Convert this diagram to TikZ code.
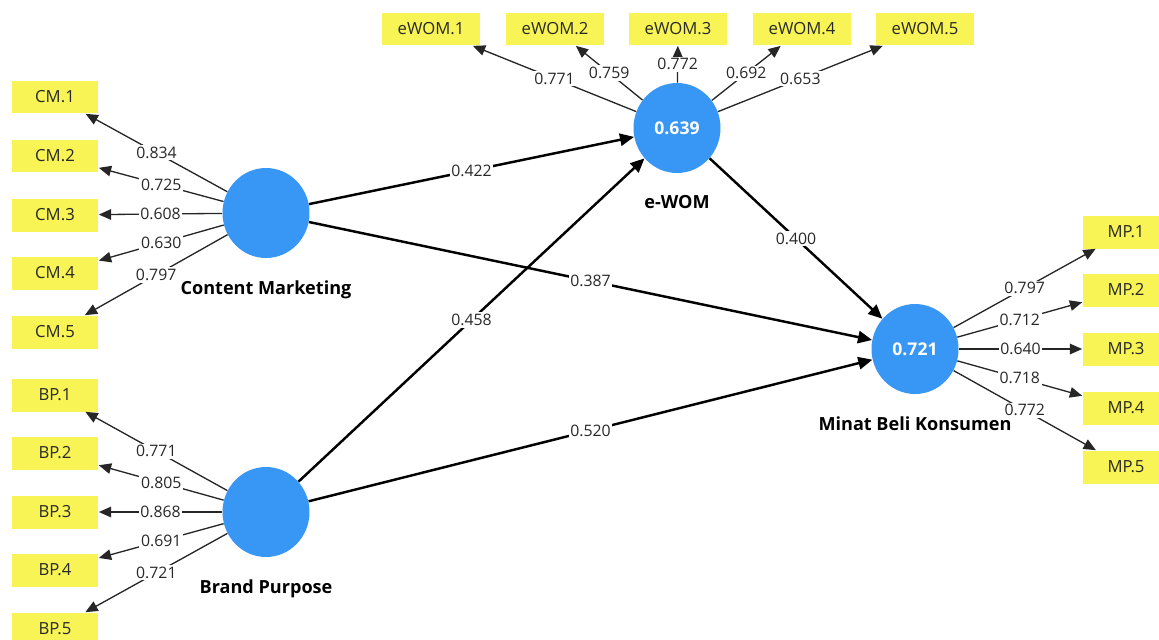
\documentclass[tikz,border=0pt]{standalone}
\usepackage{fontspec}
\setmainfont{Open Sans}
\usepackage{tikz}
\usetikzlibrary{arrows.meta,positioning,shapes.geometric}
\definecolor{plsblue}{RGB}{56,150,245}
\definecolor{plsyellow}{RGB}{248,244,86}
\definecolor{ink}{RGB}{40,40,40}

\begin{document}
\begin{tikzpicture}[x=0.02cm, y=-0.02cm, font=\fontsize{9}{11}\selectfont,
 latent/.style={ellipse, fill=plsblue, minimum width=1.74cm, minimum height=1.8cm, inner sep=0pt, text=white, font=\fontsize{10}{12}\selectfont\bfseries},
 ind/.style={rectangle, fill=plsyellow, minimum width=1.74cm, minimum height=0.66cm, inner sep=2pt, text=ink, font=\fontsize{9.5}{11}\selectfont},
 indw/.style={ind, minimum width=1.96cm},
 lvname/.style={font=\fontsize{10.3}{12}\selectfont\bfseries, text=black, inner sep=1pt},
 load/.style={-{Triangle[length=7pt,width=6pt]}, line width=0.75pt, color=black!85},
 struct/.style={-{Triangle[length=8pt,width=7pt]}, line width=1.4pt, color=black},
 wt/.style={fill=white, inner sep=1pt, text=ink}]
\path[use as bounding box, fill=white] (0,0) rectangle (1159,639);
% latent variables
\node[latent] (cm) at (266,213) {};
\node[latent] (bp) at (266,512) {};
\node[latent] (ewom) at (677,128) {0.639};
\node[latent] (mp) at (915,349) {0.721};
\node[lvname, below=0.4cm of cm] (cmname) {Content Marketing};
\node[lvname, below=0.4cm of bp] (bpname) {Brand Purpose};
\node[lvname, below=0.4cm of ewom] (ewomname) {e-WOM};
\node[lvname, below=0.4cm of mp] (mpname) {Minat Beli Konsumen};
% indicators
\node[ind] (cm1) at (55,97) {CM.1};
\node[ind] (cm2) at (55,156) {CM.2};
\node[ind] (cm3) at (55,215) {CM.3};
\node[ind] (cm4) at (55,273) {CM.4};
\node[ind] (cm5) at (55,332) {CM.5};
\node[ind] (bp1) at (55,395) {BP.1};
\node[ind] (bp2) at (55,453) {BP.2};
\node[ind] (bp3) at (55,512) {BP.3};
\node[ind] (bp4) at (55,570) {BP.4};
\node[ind] (bp5) at (55,629) {BP.5};
\node[indw] (ewom1) at (431,29) {eWOM.1};
\node[indw] (ewom2) at (555,29) {eWOM.2};
\node[indw] (ewom3) at (678,29) {eWOM.3};
\node[indw] (ewom4) at (802,29) {eWOM.4};
\node[indw] (ewom5) at (925,29) {eWOM.5};
\node[ind] (mp1) at (1126,232) {MP.1};
\node[ind] (mp2) at (1126,290) {MP.2};
\node[ind] (mp3) at (1126,349) {MP.3};
\node[ind] (mp4) at (1126,408) {MP.4};
\node[ind] (mp5) at (1126,467) {MP.5};
% outer loadings
\draw[load] (cm) -- node[wt] {0.834} (cm1);
\draw[load] (cm) -- node[wt] {0.725} (cm2);
\draw[load] (cm) -- node[wt] {0.608} (cm3);
\draw[load] (cm) -- node[wt] {0.630} (cm4);
\draw[load] (cm) -- node[wt] {0.797} (cm5);
\draw[load] (bp) -- node[wt] {0.771} (bp1);
\draw[load] (bp) -- node[wt] {0.805} (bp2);
\draw[load] (bp) -- node[wt] {0.868} (bp3);
\draw[load] (bp) -- node[wt] {0.691} (bp4);
\draw[load] (bp) -- node[wt] {0.721} (bp5);
\draw[load] (ewom) -- node[wt] {0.771} (ewom1);
\draw[load] (ewom) -- node[wt] {0.759} (ewom2);
\draw[load] (ewom) -- node[wt] {0.772} (ewom3);
\draw[load] (ewom) -- node[wt] {0.692} (ewom4);
\draw[load] (ewom) -- node[wt] {0.653} (ewom5);
\draw[load] (mp) -- node[wt] {0.797} (mp1);
\draw[load] (mp) -- node[wt] {0.712} (mp2);
\draw[load] (mp) -- node[wt] {0.640} (mp3);
\draw[load] (mp) -- node[wt] {0.718} (mp4);
\draw[load] (mp) -- node[wt] {0.772} (mp5);
% path coefficients
\draw[struct] (cm) -- node[wt] {0.422} (ewom);
\draw[struct] (cm) -- node[wt] {0.387} (mp);
\draw[struct] (bp) -- node[wt] {0.458} (ewom);
\draw[struct] (bp) -- node[wt] {0.520} (mp);
\draw[struct] (ewom) -- node[wt] {0.400} (mp);
\end{tikzpicture}
\end{document}
